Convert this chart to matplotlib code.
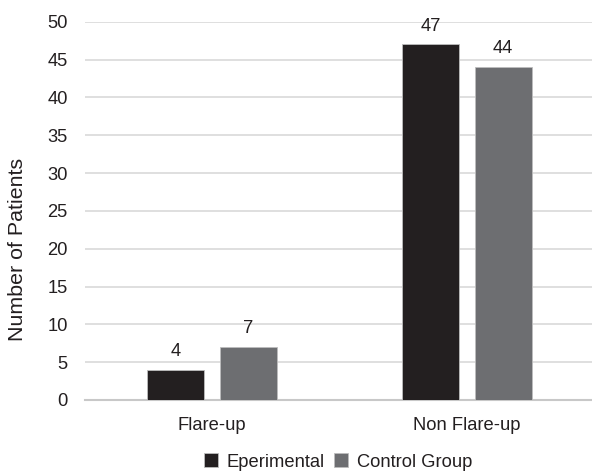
import matplotlib
matplotlib.use("Agg")
import matplotlib.pyplot as plt
import numpy as np

categories = ["Flare-up", "Non Flare-up"]
series_names = ["Eperimental", "Control Group"]
experimental = [4, 47]
control = [7, 44]
yticks = [0, 5, 10, 15, 20, 25, 30, 35, 40, 45, 50]

plt.rcParams['font.family'] = ['Liberation Sans', 'DejaVu Sans']

W, H = 592, 471
fig = plt.figure(figsize=(W/100, H/100), dpi=100)
left, right = 84.5, 594.5
top, bottom = 21.7, 400
ax = fig.add_axes([left/W, 1-bottom/H, (right-left)/W, (bottom-top)/H])

FS = 13.2
x = np.arange(len(categories))
bw = 0.224
off = 0.1415
colors = ["#231f20", "#6d6e71"]
for vals, name, c, o in zip([experimental, control], series_names, colors, [-off, off]):
    bars = ax.bar(x + o, vals, width=bw, color=c, label=name, edgecolor="#bdbdbd", linewidth=0.6, zorder=3)
    for b, v in zip(bars, vals):
        ax.annotate(str(v), (b.get_x() + b.get_width()/2, v), xytext=(0, 10),
                    textcoords="offset points", ha="center", va="baseline",
                    fontsize=FS, color="#231f20")

ax.set_xlim(-0.5, 1.5)
ax.set_ylim(0, 50)
ax.set_yticks(yticks)
ax.set_yticklabels([str(t) for t in yticks], fontsize=FS, color="#231f20")
ax.set_xticks(x)
ax.set_xticklabels(categories, fontsize=FS, color="#231f20")
ax.tick_params(axis='both', length=0)
ax.tick_params(axis='y', pad=12)
ax.tick_params(axis='x', pad=12)
ax.grid(axis='y', color="#d9d9d9", linewidth=1.2, zorder=0)
for s in ["top", "right", "left"]:
    ax.spines[s].set_visible(False)
ax.spines["bottom"].set_color("#c8c8c8")
ax.spines["bottom"].set_linewidth(1.5)

fig.text(18/W, 1-249/H, "Number of Patients", rotation=90, ha="center", va="center",
         fontsize=15.4, color="#231f20")

fig.legend(loc="center", bbox_to_anchor=(338/W, 1-462/H), ncol=2, frameon=False,
           fontsize=FS, handlelength=0.75, handleheight=0.75, handletextpad=0.5,
           columnspacing=0.5, labelcolor="#231f20")

fig.savefig("out.png", dpi=100)
